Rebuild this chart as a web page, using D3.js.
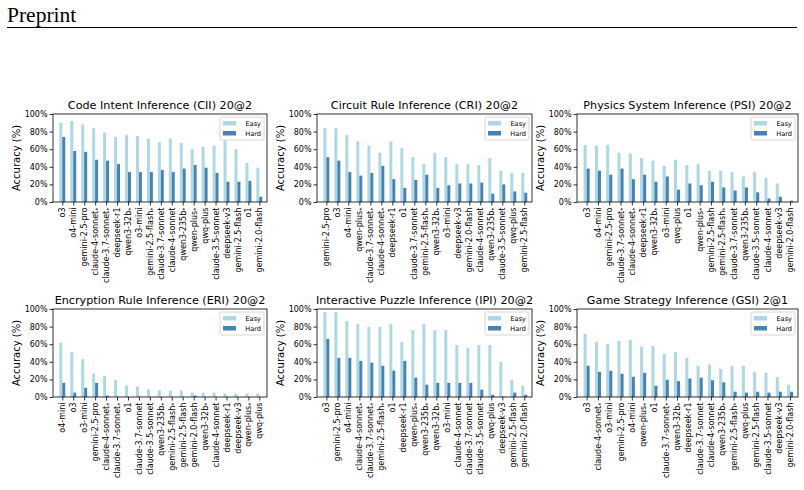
<!DOCTYPE html>
<html>
<head>
<meta charset="utf-8">
<script src="https://d3js.org/d3.v7.min.js"></script>
<style>
  body { margin: 0; background: #fff; }
  text { font-family: "DejaVu Sans", sans-serif; }
</style>
</head>
<body>
<svg id="chart" width="804" height="490"></svg>
<script>
// ---- data ----
const ciiModels = ["o3","o4-mini","gemini-2.5-pro","claude-4-sonnet*","claude-3.7-sonnet*","deepseek-r1","qwen3-32b*","o3-mini","gemini-2.5-flash*","claude-3.7-sonnet","claude-4-sonnet","qwen3-235b*","qwen-plus*","qwq-plus","claude-3.5-sonnet","deepseek-v3","gemini-2.5-flash","o1","gemini-2.0-flash"];
const ciiEasy = [90,92,88,84,79,74,76,75,72,68,72,67,60,63,64,70,60,44.5,39];
const ciiHard = [74,58,57,48,47,43,34,34,34,36.5,34,38,42,39,33,23,23,24,6];

const criModels = ["gemini-2.5-pro","o3","o4-mini","qwen-plus*","claude-3.7-sonnet*","claude-4-sonnet*","deepseek-r1","o1","claude-3.7-sonnet","gemini-2.5-flash*","qwen3-32b*","o3-mini","deepseek-v3","gemini-2.0-flash","claude-4-sonnet","qwen3-235b*","claude-3.5-sonnet","qwq-plus","gemini-2.5-flash"];
const criEasy = [84,84,76,69,64,56,69,61.5,51,43,56,51,43,43,42,50,35.5,33,33];
const criHard = [51,47,34,30,33,41,26,16,25,31,16,19,21,21,22,9.5,20,12,10.5];

const psiModels = ["o3","o4-mini","gemini-2.5-pro","claude-3.7-sonnet*","claude-4-sonnet*","deepseek-r1","qwen3-32b*","o3-mini","qwq-plus","o1","qwen-plus*","gemini-2.5-flash","gemini-2.5-flash*","claude-3.7-sonnet","qwen3-235b*","claude-3.5-sonnet","claude-4-sonnet","deepseek-v3","gemini-2.0-flash"];
const psiEasy = [65,64,65,56,55,50,47,41,48,42,43,35.5,35.5,34,29,34,27.5,21,0];
const psiHard = [38,35.5,31,38,26,31,23,29,14,21,19,23,16.5,13,16.5,11,4,6,1.5];

const eriModels = ["o4-mini","o3","o3-mini","gemini-2.5-pro","claude-4-sonnet*","claude-3.7-sonnet*","o1","claude-3.7-sonnet","claude-3.5-sonnet","qwen3-235b*","gemini-2.5-flash*","gemini-2.5-flash","gemini-2.0-flash","qwen3-32b*","claude-4-sonnet","deepseek-r1","deepseek-v3","qwen-plus*","qwq-plus"];
const eriEasy = [61.5,51,43,26.5,24,19.5,13,12,8.5,7.5,7.5,7.5,5,5,5,4,4,4,4];
const eriHard = [16,5,10.5,16,1.5,0.3,0,0.3,0,0,0,0,1.5,0,0,0,0,0,0];

const ipiModels = ["o3","gemini-2.5-pro","o4-mini","claude-4-sonnet*","claude-3.7-sonnet*","gemini-2.5-flash*","o1","deepseek-r1","qwen-plus*","qwen3-235b*","qwen3-32b*","o3-mini","claude-4-sonnet","claude-3.7-sonnet","claude-3.5-sonnet","qwq-plus","deepseek-v3","gemini-2.5-flash","gemini-2.0-flash"];
const ipiEasy = [96.6,96.6,86.5,83,79.6,79.6,83,62.6,76,83,76,76,59,56,59,59,40,19.6,12.8];
const ipiHard = [66,44.5,44.5,41,39,35.5,30,41,22,14,16,16,16,16,8.3,2.6,0.4,5,2.6];

const gsiModels = ["o3","claude-4-sonnet*","o3-mini","gemini-2.5-pro","o4-mini","qwen-plus*","o1","claude-3.7-sonnet*","qwen3-32b*","deepseek-r1","claude-3.7-sonnet","claude-4-sonnet","qwen3-235b*","gemini-2.5-flash*","qwq-plus","gemini-2.5-flash","claude-3.5-sonnet","deepseek-v3","gemini-2.0-flash"];
const gsiEasy = [71.7,62.6,60.4,63.8,65,57,58,49,51,44.5,35.5,36.6,32,35.5,35.5,28.7,27.5,22.6,14];
const gsiHard = [35.5,28.7,29.8,26.4,23,27.5,12.8,19.6,18,21,22,19,16.6,6,5,6,5,6,6];

const titles = ["Code Intent Inference (CII) 20@2","Circuit Rule Inference (CRI) 20@2","Physics System Inference (PSI) 20@2",
                "Encryption Rule Inference (ERI) 20@2","Interactive Puzzle Inference (IPI) 20@2","Game Strategy Inference (GSI) 2@1"];
const yTicks = [0,20,40,60,80,100];
const seriesNames = ["Easy","Hard"];
const seriesColors = ["#add8e6","#4682b4"];

const panels = [
  {models: ciiModels, easy: ciiEasy, hard: ciiHard},
  {models: criModels, easy: criEasy, hard: criHard},
  {models: psiModels, easy: psiEasy, hard: psiHard},
  {models: eriModels, easy: eriEasy, hard: eriHard},
  {models: ipiModels, easy: ipiEasy, hard: ipiHard},
  {models: gsiModels, easy: gsiEasy, hard: gsiHard}
];

const svg = d3.select("#chart");

// page header
svg.append("text").attr("x", 7).attr("y", 22)
  .style("font-family", "'Liberation Serif', 'DejaVu Serif', serif")
  .attr("font-size", 21.5).attr("fill", "#000").text("Preprint");
svg.append("line").attr("x1", 7).attr("x2", 797).attr("y1", 27.5).attr("y2", 27.5)
  .attr("stroke", "#000").attr("stroke-width", 1);

// axes boxes [left, width] per column, top per row
const cols = [[53, 214], [317, 215], [577, 221]];
const rowY = [114, 309];
const H = 88;
const barW = 0.27;

panels.forEach((p, k) => {
  const [left, W] = cols[k % 3], top = rowY[Math.floor(k / 3)];
  const g = svg.append("g").attr("transform", `translate(${left},${top})`);
  const n = p.models.length;

  const x = d3.scaleLinear().domain([-0.85, n - 0.3]).range([0, W]);
  const y = d3.scaleLinear().domain([0, 100]).range([H, 0]);

  // bars
  [p.easy, p.hard].forEach((vals, s) => {
    g.append("g").selectAll("rect").data(vals).join("rect")
      .attr("x", (d, i) => x(i - barW + s * barW))
      .attr("width", x(barW) - x(0))
      .attr("y", d => y(d))
      .attr("height", d => y(0) - y(d))
      .attr("fill", seriesColors[s]);
  });

  // axes
  const yAxis = g.append("g").call(d3.axisLeft(y).tickValues(yTicks).tickFormat(d => d + "%").tickSize(3.5).tickPadding(2));
  const xAxis = g.append("g").attr("transform", `translate(0,${H})`)
    .call(d3.axisBottom(x).tickValues(d3.range(n)).tickFormat(i => p.models[i]).tickSize(3.5));
  [yAxis, xAxis].forEach(a => {
    a.select(".domain").remove();
    a.selectAll("line").attr("stroke", "#000").attr("stroke-width", 0.8);
    a.selectAll("text").attr("font-size", 8).attr("fill", "#000").style("font-family", "'DejaVu Sans', sans-serif");
  });
  xAxis.selectAll("text")
    .attr("transform", "rotate(-90)")
    .attr("text-anchor", "end")
    .attr("x", -5.5).attr("y", 0).attr("dy", "0.32em")
    .each(function (d) {
      const name = p.models[d];
      const t = d3.select(this).text(null);
      if (name.endsWith("*")) {
        t.append("tspan").text(name.slice(0, -1));
        t.append("tspan").attr("font-size", 6.5).attr("dy", "0.25em").text("*");
      } else {
        t.text(name);
      }
    });

  // frame
  g.append("rect").attr("width", W).attr("height", H)
    .attr("fill", "none").attr("stroke", "#000").attr("stroke-width", 0.8);

  // title + y label
  g.append("text").attr("x", W / 2).attr("y", -5).attr("text-anchor", "middle")
    .attr("font-size", 11.2).attr("fill", "#000").text(titles[k]);
  g.append("text").attr("transform", `translate(-33,${H / 2}) rotate(-90)`)
    .attr("text-anchor", "middle").attr("font-size", 10).attr("fill", "#000").text("Accuracy (%)");

  // legend
  const lg = g.append("g").attr("transform", `translate(${W - 47},3)`);
  lg.append("rect").attr("width", 44).attr("height", 23).attr("rx", 1.5)
    .attr("fill", "#fff").attr("fill-opacity", 0.8).attr("stroke", "#ccc").attr("stroke-width", 0.8);
  seriesNames.forEach((name, s) => {
    lg.append("rect").attr("x", 3).attr("y", 4 + s * 10).attr("width", 13).attr("height", 4.5)
      .attr("fill", seriesColors[s]);
    lg.append("text").attr("x", 41).attr("y", 8.5 + s * 10).attr("text-anchor", "end")
      .attr("font-size", 6.6).attr("fill", "#000").text(name);
  });
});
</script>
</body>
</html>
